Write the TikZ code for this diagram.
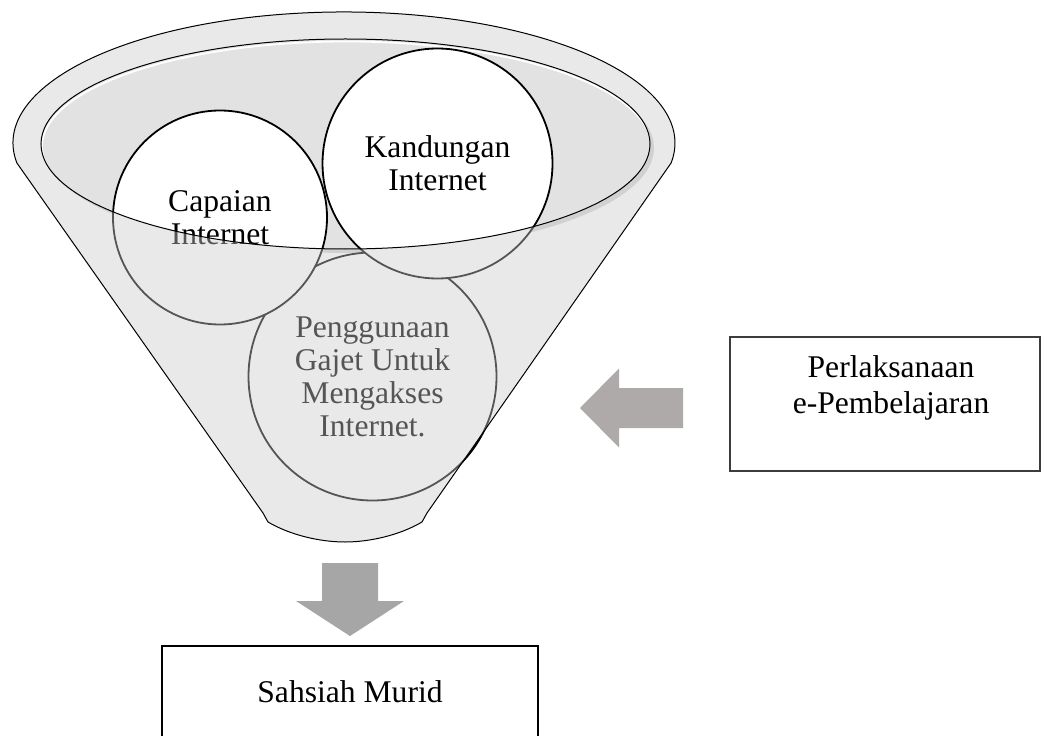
\documentclass[tikz,border=0pt]{standalone}
\usepackage{fontspec}
\setmainfont{Liberation Serif}
\usepackage{xcolor}
\usepackage{tikz}
\usetikzlibrary{positioning,calc}
\definecolor{rimgray}{RGB}{203,203,203}
\definecolor{mouthgray}{RGB}{226,226,226}
\definecolor{shadegray}{RGB}{214,214,214}
\definecolor{arrowgray}{RGB}{166,166,166}
\definecolor{warmgray}{RGB}{174,170,170}
\definecolor{framegray}{RGB}{60,60,60}

\begin{document}
\begin{tikzpicture}[
    x=0.5pt, y=0.5pt,
    bubble/.style={circle, draw=black, line width=0.9pt, fill=white, inner sep=0pt, align=center,
                   font=\fontsize{15.8}{16.5}\selectfont},
    frame/.style={draw=black, line width=0.65pt, inner sep=0pt, align=center,
                  font=\fontsize{15.8}{18}\selectfont},
    boxtext/.style={align=center, inner sep=0pt, font=\fontsize{15.8}{18}\selectfont},
    funnelpath/.style={insert path={(16.9,572) arc[start angle=188.8, end angle=-8.8, x radius=331, y radius=131]
        -- (427,222) .. controls (425,217) .. (422,213)
        .. controls (400,200) and (370,193) .. (345,193)
        .. controls (320,193) and (290,200) .. (268,213)
        .. controls (265,217) .. (263,222) -- cycle}},
    mouth/.style={insert path={(345.5,591) ellipse[x radius=304.5, y radius=105]}},
]
    \clip (0,0) rectangle (1043,735);

    % Mouth of the funnel (shadow, fill, light edge)
    \fill[shadegray] (349.5,587) ellipse[x radius=304.5, y radius=105];
    \fill[mouthgray] [mouth];
    \begin{scope}
        \clip [mouth];
        \draw[white, line width=0.9pt] (346.5,588.5) ellipse[x radius=304.5, y radius=105];
    \end{scope}

    % Circles
    \node[bubble, minimum size=124pt] (gadget) at (372.5,358.5) {Penggunaan\\Gajet Untuk\\Mengakses\\Internet.};
    \node[bubble, minimum size=107pt] (reach) at (220,517.5) {Capaian\\Internet};
    \node[bubble, minimum size=115pt] (content) at (437.5,571.5) {Kandungan\\Internet};

    % Funnel body over the circles
    \fill[rimgray, fill opacity=0.42, even odd rule] [funnelpath] [mouth];
    \draw[black, line width=0.5pt] [funnelpath];
    \draw[black, line width=0.5pt] [mouth];

    % Side box
    \node[frame, draw=framegray, minimum width=155pt, minimum height=67pt] (elearn) at (885,331) {};
    \node[boxtext] (elearntxt) at (891,347.3) {Perlaksanaan\\e-Pembelajaran};

    % Output box
    \node[frame, minimum width=188pt, minimum height=45.5pt] (pupil) at (350,43.5) {Sahsiah Murid};

    % Block arrows
    \coordinate (downtip) at (350,99);
    \fill[arrowgray, shift={(downtip)}] (-28,73) -- (28,73) -- (28,35) -- (54,35) -- (0,0) -- (-54,35) -- (-28,35) -- cycle;
    \coordinate (lefttip) at (580,327);
    \fill[warmgray, shift={(lefttip)}] (0,0) -- (39,39.5) -- (39,20) -- (103,20) -- (103,-20) -- (39,-20) -- (39,-39.5) -- cycle;
\end{tikzpicture}
\end{document}
